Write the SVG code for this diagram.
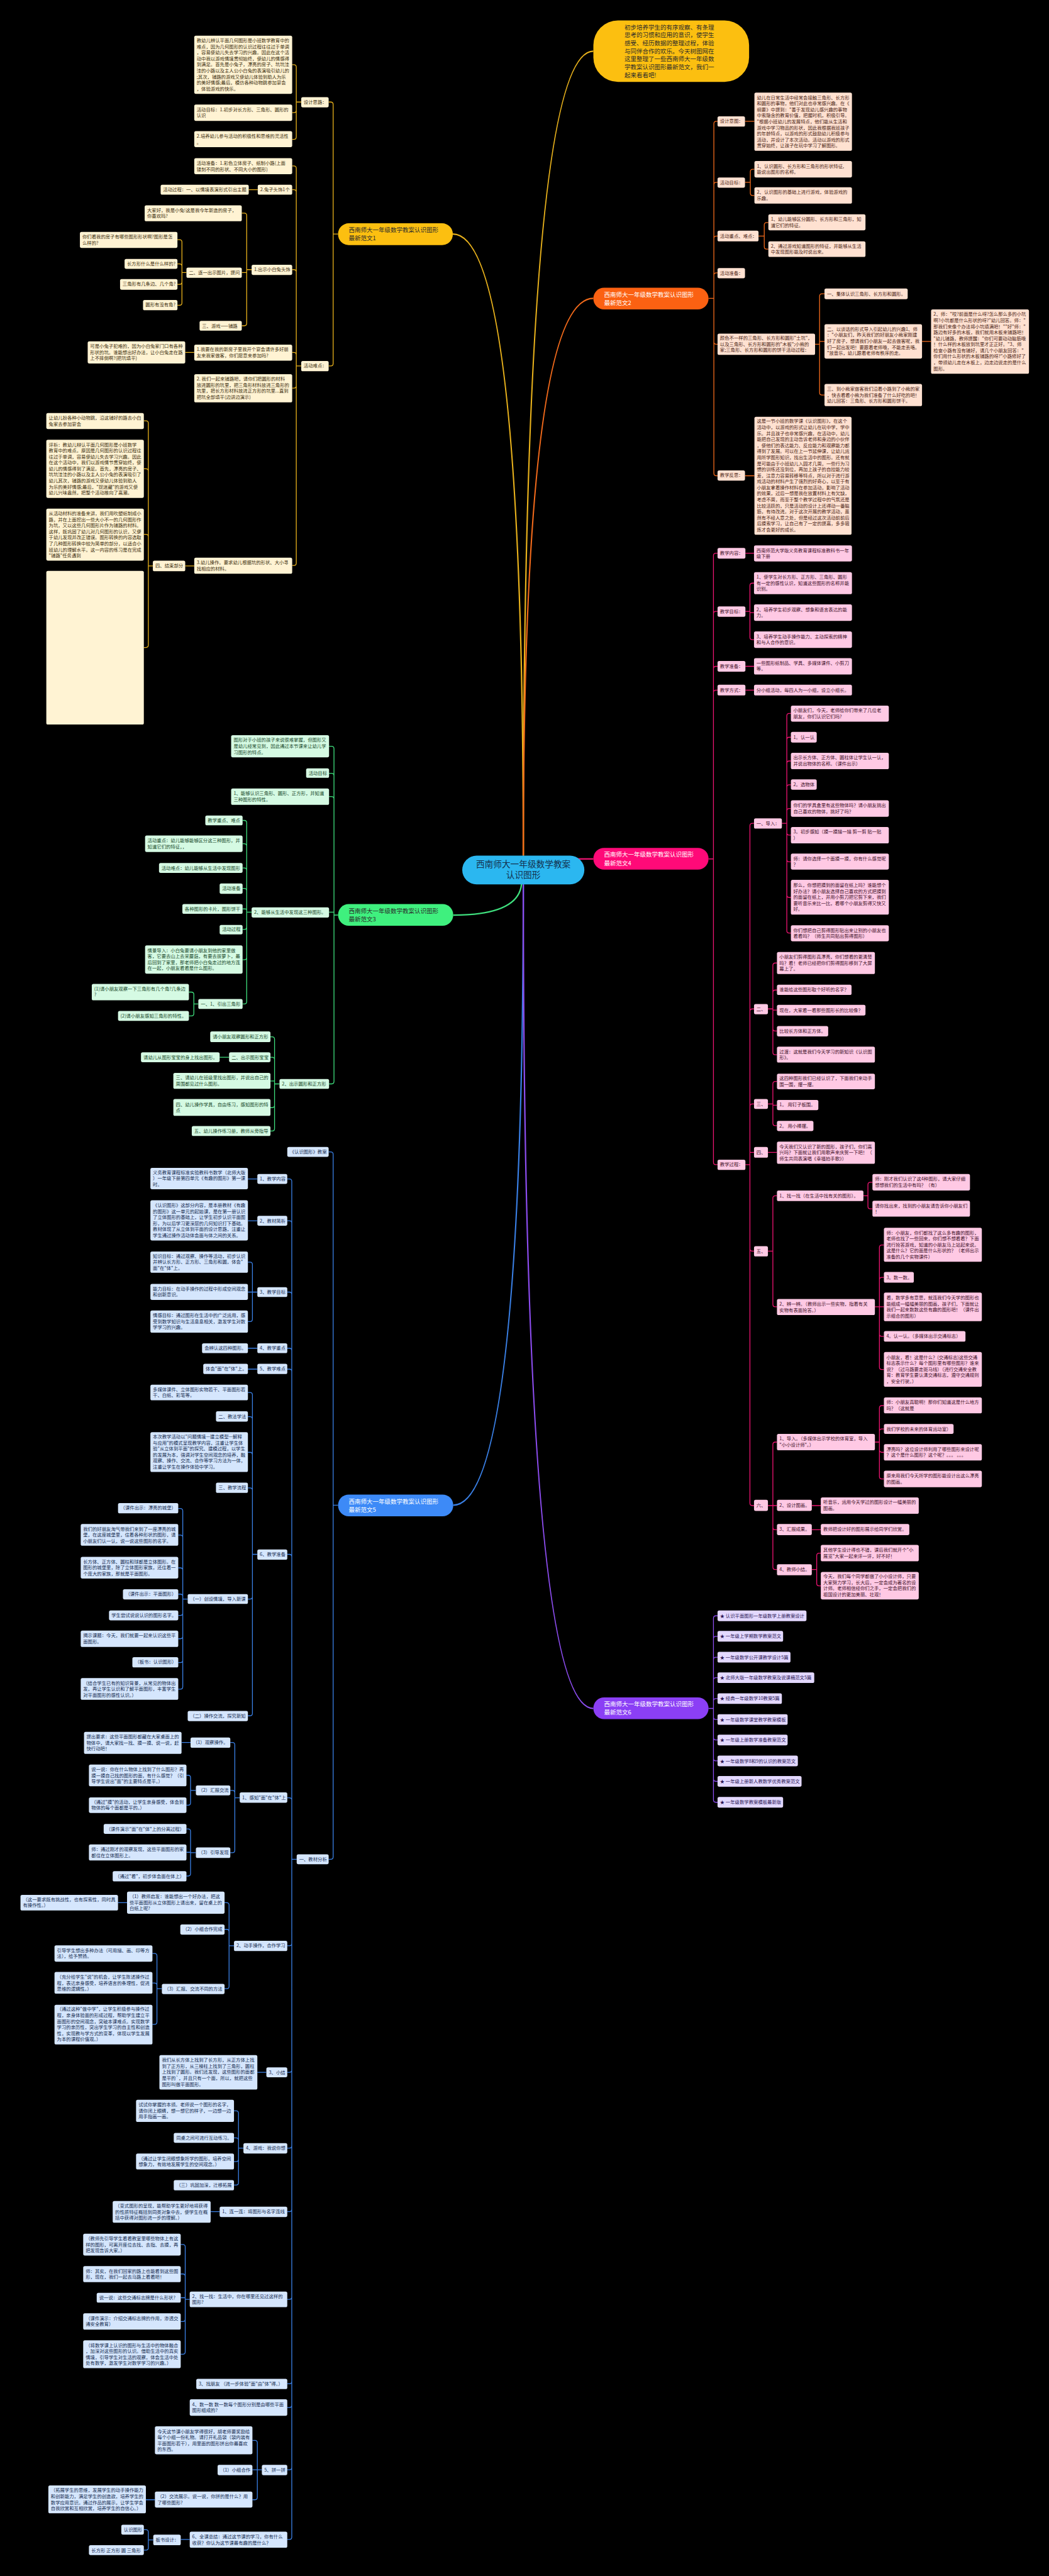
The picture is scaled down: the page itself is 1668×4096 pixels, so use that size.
<svg xmlns="http://www.w3.org/2000/svg" width="1668" height="4096" viewBox="0 0 1668 4096">
<style>
text{font-family:"Noto Sans CJK SC","Noto Sans",sans-serif;font-size:11.3px}
.bt{font-size:14.6px}
.ct{font-size:21px}
.r1,.r2,.r3,.r4,.r5,.r6{rx:4px;ry:4px}
.r1{fill:#fff3d3}.t1{fill:#3a2d0c}
.r2{fill:#ffe1d1}.t2{fill:#4a2413}
.r3{fill:#d5fae3}.t3{fill:#17482a}
.r4{fill:#ffc9e4}.t4{fill:#3d0f28}
.r5{fill:#d5e6fd}.t5{fill:#132a4e}
.r6{fill:#e3d8ff}.t6{fill:#2a1552}
.c1,.c2,.c3,.c4,.c5,.c6{fill:none;stroke-width:2}
.c1{stroke:#e9b21c}.c2{stroke:#f26a1b}.c3{stroke:#3fe07e}.c4{stroke:#ee1472}.c5{stroke:#3a80e6}.c6{stroke:#8d4df0}
.m{stroke-width:3.5}
.w{fill:#ffffff}.d{fill:#2a2a2a}
</style>
<rect width="1668" height="4096" fill="#000"/>
<g transform="scale(0.6516)">
<g id="connectors">
<path class="c1 m" d="M1277 2088Q1277 125 1448 125"/>
<path class="c1 m" d="M1277 2088Q1277 571 1105 571"/>
<path class="c2 m" d="M1277 2088Q1277 728 1448 728"/>
<path class="c3 m" d="M1273 2150Q1273 2233 1106 2233"/>
<path class="c4 m" d="M1400 2096H1448"/>
<path class="c5 m" d="M1277 2158Q1277 3673 1106 3673"/>
<path class="c6 m" d="M1277 2158Q1277 4169 1448 4169"/>
<path class="c1" d="M825 571H813M813 571V255Q813 249 807 249H802M813 571V887Q813 893 807 893H802
M735 249H723M723 249V164Q723 158 717 158H713M723 249V269Q723 275 717 275H713M723 249V334Q723 340 717 340H713
M735 893H723M723 893V411Q723 405 717 405H713M723 893V469Q723 463 717 463H713M723 893V664Q723 658 717 658H713M723 893V866Q723 860 717 860H713M723 893V941Q723 947 717 947H713M723 893V1374Q723 1380 717 1380H713
M629 463H607
M614 658H602M602 658V526Q602 520 596 520H590M602 658V665H590M602 658V789Q602 795 596 795H590
M455 665H444M444 665V591Q444 585 438 585H433M444 665V650Q444 644 438 644H433M444 665V688Q444 694 438 694H433M444 665V739Q444 745 438 745H433
M474 860H452M474 1381H452
M373 1381H362M362 1381V1033Q362 1027 356 1027H351M362 1381V1150Q362 1144 356 1144H351M362 1381V1310Q362 1304 356 1304H351M362 1381V1574Q362 1580 356 1580H351"/>
<path class="c2" d="M1729 728H1742M1742 728V302Q1742 296 1748 296H1751M1742 728V451Q1742 445 1748 445H1751M1742 728V582Q1742 576 1748 576H1751M1742 728V672Q1742 666 1748 666H1751M1742 728V834Q1742 840 1748 840H1751M1742 728V1155Q1742 1161 1748 1161H1751
M1818 296H1841
M1818 445H1831M1831 445V419Q1831 413 1837 413H1841M1831 445V471Q1831 477 1837 477H1841
M1851 576H1865M1865 576V549Q1865 543 1871 543H1875M1865 576V602Q1865 608 1871 608H1875
M1989 840H2000M2000 840V723Q2000 717 2006 717H2012M2000 840V833H2012M2000 840V958Q2000 964 2006 964H2012
M2250 833H2272M1818 1161H1841"/>
<path class="c4" d="M1729 2096H1741M1741 2096V1356Q1741 1350 1747 1350H1751M1741 2096V1498Q1741 1492 1747 1492H1751M1741 2096V1632Q1741 1626 1747 1626H1751M1741 2096V1690Q1741 1684 1747 1684H1751M1741 2096V2836Q1741 2842 1747 2842H1751
M1819 1350H1840
M1819 1492H1830M1830 1492V1429Q1830 1423 1836 1423H1840M1830 1492V1495H1840M1830 1492V1555Q1830 1561 1836 1561H1840
M1819 1626H1840M1819 1684H1840
M1819 2842H1830M1830 2842V2015Q1830 2009 1836 2009H1840M1830 2842V2468Q1830 2462 1836 2462H1840M1830 2842V2700Q1830 2694 1836 2694H1840M1830 2842V2812H1840M1830 2842V3047Q1830 3053 1836 3053H1840M1830 2842V3668Q1830 3674 1836 3674H1840
M1908 2009H1920M1920 2009V1747Q1920 1741 1926 1741H1930M1920 2009V1805Q1920 1799 1926 1799H1930M1920 2009V1863Q1920 1857 1926 1857H1930M1920 2009V1921Q1920 1915 1926 1915H1930M1920 2009V1979Q1920 1973 1926 1973H1930M1920 2009V2032Q1920 2038 1926 2038H1930M1920 2009V2097Q1920 2103 1926 2103H1930M1920 2009V2184Q1920 2190 1926 2190H1930M1920 2009V2271Q1920 2277 1926 2277H1930
M1874 2462H1886M1886 2462V2356Q1886 2350 1892 2350H1896M1886 2462V2422Q1886 2416 1892 2416H1896M1886 2462V2465H1896M1886 2462V2510Q1886 2516 1892 2516H1896M1886 2462V2568Q1886 2574 1892 2574H1896
M1874 2694H1886M1886 2694V2645Q1886 2639 1892 2639H1896M1886 2694V2697H1896M1886 2694V2741Q1886 2747 1892 2747H1896
M1874 2812H1896
M1874 3053H1886M1886 3053V2924Q1886 2918 1892 2918H1896M1886 3053V3183Q1886 3189 1892 3189H1896
M2107 2918H2118M2118 2918V2891Q2118 2885 2124 2885H2129M2118 2918V2944Q2118 2950 2124 2950H2129
M2135 3189H2146M2146 3189V3044Q2146 3038 2152 3038H2157M2146 3189V3123Q2146 3117 2152 3117H2157M2146 3189H2157M2146 3189V3255Q2146 3261 2152 3261H2157M2146 3189V3336Q2146 3342 2152 3342H2157
M1874 3674H1886M1886 3674V3525Q1886 3519 1892 3519H1896M1886 3674H1896M1886 3674V3727Q1886 3733 1892 3733H1896M1886 3674V3824Q1886 3830 1892 3830H1896
M2135 3519H2146M2146 3519V3436Q2146 3430 2152 3430H2157M2146 3519V3493Q2146 3487 2152 3487H2157M2146 3519V3538Q2146 3544 2152 3544H2157M2146 3519V3603Q2146 3609 2152 3609H2157
M1981 3674H2003M1981 3733H2003
M1981 3830H1993M1993 3830V3796Q1993 3790 1999 3790H2003M1993 3830V3864Q1993 3870 1999 3870H2003"/>
<path class="c6" d="M1729 4169H1741M1741 4169V3949Q1741 3943 1747 3943H1751M1741 4169V3999Q1741 3993 1747 3993H1751M1741 4169V4050Q1741 4044 1747 4044H1751M1741 4169V4100Q1741 4094 1747 4094H1751M1741 4169V4151Q1741 4145 1747 4145H1751M1741 4169V4190Q1741 4196 1747 4196H1751M1741 4169V4240Q1741 4246 1747 4246H1751M1741 4169V4291Q1741 4297 1747 4297H1751M1741 4169V4341Q1741 4347 1747 4347H1751M1741 4169V4392Q1741 4398 1747 4398H1751"/>
<path class="c3" d="M825 2233H815M815 2233V1827Q815 1821 809 1821H803M815 2233V1893Q815 1887 809 1887H803M815 2233V1950Q815 1944 809 1944H803M815 2233V2226H803M815 2233V2639Q815 2645 809 2645H803
M614 2226H602M602 2226V2008Q602 2002 596 2002H592M602 2226V2065Q602 2059 596 2059H592M602 2226V2124Q602 2118 596 2118H592M602 2226V2174Q602 2168 596 2168H592M602 2226V2220Q602 2218 598 2218H592M602 2226V2262Q602 2268 596 2268H592M602 2226V2336Q602 2342 596 2342H592M602 2226V2444Q602 2450 596 2450H592
M484 2450H473M473 2450V2427Q473 2421 467 2421H461M473 2450V2473Q473 2479 467 2479H461
M682 2645H670M670 2645V2536Q670 2530 664 2530H660M670 2645V2586Q670 2580 664 2580H660M670 2645V2638H660M670 2645V2697Q670 2703 664 2703H660M670 2645V2754Q670 2760 664 2760H660
M559 2580H536"/>
<path class="c5" d="M825 3673H813M813 3673V2817Q813 2811 807 2811H802M813 3673V4531Q813 4537 807 4537H802
M724 4537H712M712 4537V2883Q712 2877 706 2877H701M712 4537V2985Q712 2979 706 2979H701M712 4537V3159Q712 3153 706 3153H701M712 4537V3296Q712 3290 706 3290H701M712 4537V3347Q712 3341 706 3341H701M712 4537V3799Q712 3793 706 3793H701M712 4537V4393Q712 4387 706 4387H701M712 4537V4742Q712 4748 706 4748H701M712 4537V5051Q712 5057 706 5057H701M712 4537V5236Q712 5242 706 5242H701M712 4537V5391Q712 5397 706 5397H701M712 4537V5605Q712 5611 706 5611H701M712 4537V5811Q712 5817 706 5817H701M712 4537V5869Q712 5875 706 5875H701M712 4537V6021Q712 6027 706 6027H701M712 4537V6191Q712 6197 706 6197H701
M628 2877H605M628 2979H605
M628 3153H616M616 3153V3086Q616 3080 610 3080H605M616 3153H605M616 3153V3219Q616 3225 610 3225H605
M628 3290H605M628 3341H605
M628 3793H616M616 3793V3404Q616 3398 610 3398H605M616 3793V3463Q616 3457 610 3457H605M616 3793V3550Q616 3544 610 3544H605M616 3793V3637Q616 3631 610 3631H605M616 3793V3896Q616 3902 610 3902H605M616 3793V4181Q616 4187 610 4187H605
M458 3902H446M446 3902V3687Q446 3681 440 3681H435M446 3902V3752Q446 3746 440 3746H435M446 3902V3832Q446 3826 440 3826H435M446 3902V3896Q446 3890 440 3890H435M446 3902V3936Q446 3942 440 3942H435M446 3902V3993Q446 3999 440 3999H435M446 3902V4051Q446 4057 440 4057H435M446 3902V4116Q446 4122 440 4122H435
M585 4387H573M573 4387V4258Q573 4252 567 4252H562M573 4387V4375Q573 4369 567 4369H562M573 4387V4515Q573 4521 567 4521H562
M465 4252H443
M478 4369H465M465 4369V4338Q465 4332 459 4332H455M465 4369V4399Q465 4405 459 4405H455
M478 4521H465M465 4521V4469Q465 4463 459 4463H455M465 4521V4520H455M465 4521V4572Q465 4578 459 4578H455
M571 4748H559M559 4748V4649Q559 4643 553 4643H548M559 4748V4714Q559 4708 553 4708H548M559 4748V4847Q559 4853 553 4853H548
M310 4643H288
M395 4853H383M383 4853V4773Q383 4767 377 4767H372M383 4853V4845Q383 4839 377 4839H372M383 4853V4934Q383 4940 377 4940H372
M650 5057H628
M594 5242H582M582 5242V5157Q582 5151 576 5151H571M582 5242V5223Q582 5217 576 5217H571M582 5242V5269Q582 5275 576 5275H571M582 5242V5326Q582 5332 576 5332H571
M536 5397H514
M463 5611H452M452 5611V5483Q452 5477 446 5477H441M452 5611V5555Q452 5549 446 5549H441M452 5611V5607H441M452 5611V5659Q452 5665 446 5665H441M452 5611V5739Q452 5745 446 5745H441
M639 6027H628M628 6027V5961Q628 5955 622 5955H616M628 6027H616M628 6027V6094Q628 6100 622 6100H616
M378 6100H356M463 6197H441
M374 6198H362M362 6198V6179Q362 6173 356 6173H351M362 6198V6217Q362 6223 356 6223H351"/>
</g>

<g id="center"><rect x="1128" y="2088" width="298" height="70" rx="35" fill="#2bb7f0"/><text class="ct" fill="#14304d" text-anchor="middle" x="1277" y="2117">西南师大一年级数学教案<tspan x="1277" dy="26">认识图形</tspan></text></g>
<g id="intro"><rect x="1448" y="50" width="380" height="150" rx="60" fill="#fcbf10"/><text class="bt d" x="1524" y="71.5">初步培养学生的有序观察、有条理<tspan x="1524" dy="19.5">思考的习惯和应用的意识，使学生</tspan><tspan x="1524" dy="19.5">感受、经历数据的整理过程，体验</tspan><tspan x="1524" dy="19.5">与同伴合作的欢乐。今天树图网在</tspan><tspan x="1524" dy="19.5">这里整理了一些西南师大一年级数</tspan><tspan x="1524" dy="19.5">学教案认识图形最新范文，我们一</tspan><tspan x="1524" dy="19.5">起来看看吧!</tspan></text></g>

<g id="b1"><rect x="825" y="545" width="280" height="53" rx="26" fill="#fcbf10"/><text class="bt d" x="851" y="567">西南师大一年级数学教案认识图形<tspan x="851" dy="20">最新范文1</tspan></text></g>
<g id="b2"><rect x="1448" y="702" width="281" height="53" rx="26" fill="#fb6112"/><text class="bt w" x="1474" y="724">西南师大一年级数学教案认识图形<tspan x="1474" dy="20">最新范文2</tspan></text></g>
<g id="b3"><rect x="825" y="2206" width="281" height="53" rx="26" fill="#3ff07e"/><text class="bt d" x="851" y="2229">西南师大一年级数学教案认识图形<tspan x="851" dy="20">最新范文3</tspan></text></g>
<g id="b4"><rect x="1448" y="2069" width="281" height="53" rx="26" fill="#ff0a78"/><text class="bt w" x="1474" y="2091">西南师大一年级数学教案认识图形<tspan x="1474" dy="20">最新范文4</tspan></text></g>
<g id="b5"><rect x="825" y="3647" width="281" height="53" rx="26" fill="#3d8af7"/><text class="bt w" x="851" y="3669">西南师大一年级数学教案认识图形<tspan x="851" dy="20">最新范文5</tspan></text></g>
<g id="b6"><rect x="1448" y="4142" width="281" height="53" rx="26" fill="#8b3ff5"/><text class="bt w" x="1474" y="4164">西南师大一年级数学教案认识图形<tspan x="1474" dy="20">最新范文6</tspan></text></g>

<g id="n1-1"><rect class="r1" x="735" y="237" width="67" height="25"/><text class="t1" x="741" y="253">设计思路：</text></g>
<g id="n1-2"><rect class="r1" x="474" y="87" width="239" height="142"/><text class="t1" x="480" y="103">教幼儿辨认平面几何图形是小班数学教育中的<tspan x="480" dy="14.7">难点，因为几何图形的认识过程往往过于单调</tspan><tspan x="480" dy="14.7">，容易使幼儿失去学习的兴趣。因此在这个活</tspan><tspan x="480" dy="14.7">动中我以游戏情境贯彻始终，使幼儿的情感得</tspan><tspan x="480" dy="14.7">到满足。首先是小兔子，漂亮的房子、坑坑洼</tspan><tspan x="480" dy="14.7">洼的小路以及主人公小白兔的表演吸引幼儿的</tspan><tspan x="480" dy="14.7">;其次，铺路的游戏又使幼儿体验到助人为乐</tspan><tspan x="480" dy="14.7">的美好情感;最后，模仿各种动物跳参加宴会</tspan><tspan x="480" dy="14.7">，体验游戏的快乐。</tspan></text></g>
<g id="n1-3"><rect class="r1" x="474" y="255" width="239" height="40"/><text class="t1" x="480" y="271">活动目标：1.初步对长方形、三角形、圆形的<tspan x="480" dy="14.7">认识</tspan></text></g>
<g id="n1-4"><rect class="r1" x="474" y="320" width="239" height="39"/><text class="t1" x="480" y="336">2.培养幼儿参与活动的积极性和思维的灵活性<tspan x="480" dy="14.7">。</tspan></text></g>
<g id="n1-5"><rect class="r1" x="735" y="881" width="67" height="25"/><text class="t1" x="741" y="897">活动难点：</text></g>
<g id="n1-6"><rect class="r1" x="474" y="386" width="239" height="39"/><text class="t1" x="480" y="402">活动准备：1.彩色立体房子、纸制小路(上面<tspan x="480" dy="14.7">镂刻不同的形状、不同大小的图形)</tspan></text></g>
<g id="n1-7"><rect class="r1" x="629" y="451" width="84" height="24"/><text class="t1" x="635" y="467">2.兔子头饰1个</text></g>
<g id="n1-8"><rect class="r1" x="392" y="451" width="215" height="24"/><text class="t1" x="398" y="467">活动过程：一、以情境表演形式引出主题</text></g>
<g id="n1-9"><rect class="r1" x="614" y="646" width="99" height="25"/><text class="t1" x="620" y="662">1.出示小白兔头饰</text></g>
<g id="n1-10"><rect class="r1" x="353" y="501" width="237" height="39"/><text class="t1" x="359" y="517">大家好，我是小兔!这是我今年新造的房子，<tspan x="359" dy="14.7">你喜欢吗?</tspan></text></g>
<g id="n1-11"><rect class="r1" x="455" y="653" width="135" height="25"/><text class="t1" x="461" y="669">二、逐一出示图片，提问</text></g>
<g id="n1-12"><rect class="r1" x="195" y="566" width="238" height="39"/><text class="t1" x="201" y="582">你们看我的房子有哪些图形形状啊?图形是怎<tspan x="201" dy="14.7">么样的?</tspan></text></g>
<g id="n1-13"><rect class="r1" x="304" y="632" width="129" height="24"/><text class="t1" x="310" y="648">长方形什么是什么样的?</text></g>
<g id="n1-14"><rect class="r1" x="293" y="681" width="140" height="26"/><text class="t1" x="299" y="697">三角形有几条边、几个角?</text></g>
<g id="n1-15"><rect class="r1" x="349" y="732" width="84" height="25"/><text class="t1" x="355" y="748">圆形有没有角?</text></g>
<g id="n1-16"><rect class="r1" x="487" y="783" width="103" height="24"/><text class="t1" x="493" y="799">三、游戏——铺路</text></g>
<g id="n1-17"><rect class="r1" x="474" y="841" width="239" height="39"/><text class="t1" x="480" y="857">1.我要在我的新房子里我开个宴会请许多好朋<tspan x="480" dy="14.7">友来我家做客，你们愿意来参加吗?</tspan></text></g>
<g id="n1-18"><rect class="r1" x="214" y="833" width="238" height="54"/><text class="t1" x="220" y="849">可是小兔子犯难的，因为小白兔家门口有各种<tspan x="220" dy="14.7">形状的坑。谁能想出好办法，让小白兔走在路</tspan><tspan x="220" dy="14.7">上不摔倒啊?(把坑填平)</tspan></text></g>
<g id="n1-19"><rect class="r1" x="474" y="913" width="239" height="69"/><text class="t1" x="480" y="929">2. 我们一起来铺路吧，请你们把圆形的材料<tspan x="480" dy="14.7">放进圆形的坑里，把三角形材料放进三角形的</tspan><tspan x="480" dy="14.7">坑里，把长方形材料放进正方形的坑里...直到</tspan><tspan x="480" dy="14.7">把坑全部填平(边讲边演示)</tspan></text></g>
<g id="n1-20"><rect class="r1" x="474" y="1361" width="239" height="39"/><text class="t1" x="480" y="1377">3.幼儿操作。要求幼儿根据坑的形状、大小寻<tspan x="480" dy="14.7">找相应的材料。</tspan></text></g>
<g id="n1-21"><rect class="r1" x="373" y="1368" width="79" height="26"/><text class="t1" x="379" y="1385">四、结束部分</text></g>
<g id="n1-22"><rect class="r1" x="113" y="1008" width="238" height="39"/><text class="t1" x="119" y="1024">让幼儿扮各种小动物跳，沿这铺好的路去小白<tspan x="119" dy="14.7">兔家去参加宴会</tspan></text></g>
<g id="n1-23"><rect class="r1" x="113" y="1073" width="238" height="142"/><text class="t1" x="119" y="1089">评析：教幼儿辩认平面几何图形是小班数学<tspan x="119" dy="14.7">教育中的难点。原因是几何图形的认识过程往</tspan><tspan x="119" dy="14.7">往过于单调，容易使幼儿失去学习兴趣。因此</tspan><tspan x="119" dy="14.7">在这个活动中，我们以游戏情节贯穿始终，使</tspan><tspan x="119" dy="14.7">幼儿的情感得到了满足。首先，漂亮的房子、</tspan><tspan x="119" dy="14.7">坑坑洼洼的小路以及主人公小兔的表演吸引了</tspan><tspan x="119" dy="14.7">幼儿其次，铺路的游戏又使幼儿体验到助人</tspan><tspan x="119" dy="14.7">为乐的美好情感;最后，"捉迷藏"的游戏又使</tspan><tspan x="119" dy="14.7">幼儿兴味盎然，把整个活动推向了高潮。</tspan></text></g>
<g id="n1-24"><rect class="r1" x="113" y="1241" width="238" height="127"/><text class="t1" x="119" y="1257">从活动材料的准备来讲，我们用吹塑纸制成小<tspan x="119" dy="14.7">路，并在上面挖出一些大小不一的几何图形作</tspan><tspan x="119" dy="14.7">为坑，又以这些几何图形片作为铺路的材料。</tspan><tspan x="119" dy="14.7">这样，既巩固了幼儿对几何图形的认识，又便</tspan><tspan x="119" dy="14.7">于幼儿发现并改正错误。图形转换的内容选取</tspan><tspan x="119" dy="14.7">了几种图形转换中较为简单的部分，以适合小</tspan><tspan x="119" dy="14.7">班幼儿的理解水平。这一内容的练习是在完成</tspan><tspan x="119" dy="14.7">"铺路"任务遇到</tspan></text></g>
<g id="n1-25"><rect class="r1" x="113" y="1393" width="238" height="375"/></g>

<g id="n2-1"><rect class="r2" x="1751" y="284" width="67" height="25"/><text class="t2" x="1757" y="300">设计意图：</text></g>
<g id="n2-2"><rect class="r2" x="1841" y="226" width="238" height="142"/><text class="t2" x="1847" y="242">幼儿在日常生活中经常会接触三角形、长方形<tspan x="1847" dy="14.7">和圆形的事物，他们对此也非常感兴趣。在《</tspan><tspan x="1847" dy="14.7">纲要》中提到："善于发现幼儿感兴趣的事物</tspan><tspan x="1847" dy="14.7">中索隐含的教育价值，把握时机，积极引导。</tspan><tspan x="1847" dy="14.7">"根据小班幼儿的发展特点，他们能从生活和</tspan><tspan x="1847" dy="14.7">游戏中学习物品的形状，因此我根据我班孩子</tspan><tspan x="1847" dy="14.7">的年龄特点，以游戏的形式鼓励幼儿积极参与</tspan><tspan x="1847" dy="14.7">活动，并设计了本次活动。活动以游戏的形式</tspan><tspan x="1847" dy="14.7">贯穿始终，让孩子在玩中学习了解图形。</tspan></text></g>
<g id="n2-3"><rect class="r2" x="1751" y="433" width="67" height="25"/><text class="t2" x="1757" y="449">活动目标：</text></g>
<g id="n2-4"><rect class="r2" x="1841" y="393" width="238" height="40"/><text class="t2" x="1847" y="409">1、认识圆形、长方形和三角形的形状特征,<tspan x="1847" dy="14.7">能说出图形的名称。</tspan></text></g>
<g id="n2-5"><rect class="r2" x="1841" y="457" width="238" height="40"/><text class="t2" x="1847" y="473">2、认识图形的基础上进行游戏，体验游戏的<tspan x="1847" dy="14.7">乐趣。</tspan></text></g>
<g id="n2-6"><rect class="r2" x="1751" y="563" width="100" height="26"/><text class="t2" x="1757" y="580">活动重点、难点：</text></g>
<g id="n2-7"><rect class="r2" x="1875" y="523" width="237" height="39"/><text class="t2" x="1881" y="539">1、幼儿能够区分圆形、长方形和三角形，知<tspan x="1881" dy="14.7">道它们的特征。</tspan></text></g>
<g id="n2-8"><rect class="r2" x="1875" y="589" width="237" height="38"/><text class="t2" x="1881" y="604">2、通过游戏知道图形的特征，并能够从生活<tspan x="1881" dy="14.7">中发现图形能及时说出来。</tspan></text></g>
<g id="n2-9"><rect class="r2" x="1751" y="654" width="67" height="25"/><text class="t2" x="1757" y="670">活动准备：</text></g>
<g id="n2-10"><rect class="r2" x="1751" y="814" width="238" height="52"/><text class="t2" x="1757" y="829">颜色不一样的三角形、长方形和圆形"土坑"，<tspan x="1757" dy="14.7">以及三角形、长方形和圆形的"木板";小熊的</tspan><tspan x="1757" dy="14.7">家;三角形、长方形和圆形的饼干活动过程：</tspan></text></g>
<g id="n2-11"><rect class="r2" x="2012" y="704" width="203" height="26"/><text class="t2" x="2018" y="721">一、集体认识三角形、长方形和圆形。</text></g>
<g id="n2-12"><rect class="r2" x="2012" y="791" width="238" height="84"/><text class="t2" x="2018" y="807">二、以谈话的形式导入引起幼儿的兴趣1、师<tspan x="2018" dy="14.7">："小朋友们，昨天我们的好朋友小熊家刚建</tspan><tspan x="2018" dy="14.7">好了房子，想请我们小朋友一起去做客呢，我</tspan><tspan x="2018" dy="14.7">们一起出发吧！要跟着老师哦，不能走丢咯。</tspan><tspan x="2018" dy="14.7">"放音乐，幼儿跟着老师有秩序的走。</tspan></text></g>
<g id="n2-13"><rect class="r2" x="2272" y="755" width="239" height="157"/><text class="t2" x="2278" y="771">2、师："哎?前面是什么呀?怎么那么多的小坑<tspan x="2278" dy="14.7">啊?小坑都是什么形状的呀?"幼儿回答。师："</tspan><tspan x="2278" dy="14.7">那我们来像个办法将小坑填满吧！""好"师："</tspan><tspan x="2278" dy="14.7">路边有好多的木板，我们就用木板来铺路吧！</tspan><tspan x="2278" dy="14.7">"幼儿铺路，教师提醒："你们可要动动脑筋哦</tspan><tspan x="2278" dy="14.7">！什么样的木板放到坑里才正正好。"3、师</tspan><tspan x="2278" dy="14.7">检查小路有没有铺好，请几个小朋友回答："</tspan><tspan x="2278" dy="14.7">你们用什么形状的木板铺路的呀?"小路修好了</tspan><tspan x="2278" dy="14.7">，带领幼儿走在木板上，边走边说走的是什么</tspan><tspan x="2278" dy="14.7">图形。</tspan></text></g>
<g id="n2-14"><rect class="r2" x="2012" y="937" width="238" height="54"/><text class="t2" x="2018" y="953">三、到小熊家做客我们沿着小路到了小熊的家<tspan x="2018" dy="14.7">，快去看看小熊为我们准备了什么好吃的吧！</tspan><tspan x="2018" dy="14.7">幼儿回答：三角形、长方形和圆形饼干。</tspan></text></g>
<g id="n2-15"><rect class="r2" x="1751" y="1148" width="67" height="25"/><text class="t2" x="1757" y="1164">教学反思：</text></g>
<g id="n2-16"><rect class="r2" x="1841" y="1017" width="237" height="288"/><text class="t2" x="1847" y="1032">这是一节小班的数学课《认识图形》，在这个<tspan x="1847" dy="14.7">活动中，以游戏的形式让幼儿在玩中学，学中</tspan><tspan x="1847" dy="14.7">乐。并且孩子也非常感兴趣，在活动中，幼儿</tspan><tspan x="1847" dy="14.7">能把自己发现的主动告诉老师和身边的小伙伴</tspan><tspan x="1847" dy="14.7">，使他们的表达能力、反应能力和观察能力都</tspan><tspan x="1847" dy="14.7">得到了发展。可以在上一节延伸课，让幼儿运</tspan><tspan x="1847" dy="14.7">用所学图形知识，找出生活中的图形。还有就</tspan><tspan x="1847" dy="14.7">是可能由于小班幼儿入园才几周，一些行为习</tspan><tspan x="1847" dy="14.7">惯的训练还没到位，再加上孩子的自控能力较</tspan><tspan x="1847" dy="14.7">差，注意力容易转移等特点，所以对于进行游</tspan><tspan x="1847" dy="14.7">戏活动的材料产生了强烈的好奇心，以至于有</tspan><tspan x="1847" dy="14.7">小朋友拿着操作材料在参加活动，影响了活动</tspan><tspan x="1847" dy="14.7">的效果，过后一想是我在放置材料上有欠缺，</tspan><tspan x="1847" dy="14.7">考虑不周，而至于整个教学过程中的气氛还是</tspan><tspan x="1847" dy="14.7">比较活跃的，只是活动的设计上还得动一番脑</tspan><tspan x="1847" dy="14.7">筋，有待改进。对于这次开展的教学活动，虽</tspan><tspan x="1847" dy="14.7">然有不经人意之处，但是经过这次活动前前后</tspan><tspan x="1847" dy="14.7">后摸索学习，让自己有了一定的提高，多多锻</tspan><tspan x="1847" dy="14.7">炼才会更好的成长。</tspan></text></g>

<g id="n3-1"><rect class="r3" x="564" y="1794" width="239" height="54"/><text class="t3" x="570" y="1810">图形对于小班的孩子来说很难掌握，但图形又<tspan x="570" dy="14.7">是幼儿经常见到，因此通过本节课来让幼儿学</tspan><tspan x="570" dy="14.7">习图形的特点。</tspan></text></g>
<g id="n3-2"><rect class="r3" x="747" y="1875" width="56" height="23"/><text class="t3" x="753" y="1890">活动目标</text></g>
<g id="n3-3"><rect class="r3" x="564" y="1924" width="239" height="40"/><text class="t3" x="570" y="1940">1、能够认识三角形、圆形、正方形，并知道<tspan x="570" dy="14.7">三种图形的特性。</tspan></text></g>
<g id="n3-4"><rect class="r3" x="614" y="2214" width="189" height="25"/><text class="t3" x="620" y="2230">2、能够从生活中发现这三种图形。</text></g>
<g id="n3-5"><rect class="r3" x="501" y="1990" width="91" height="24"/><text class="t3" x="507" y="2006">教学重点、难点</text></g>
<g id="n3-6"><rect class="r3" x="354" y="2039" width="238" height="40"/><text class="t3" x="360" y="2055">活动重点：幼儿能够能够区分这三种图形，并<tspan x="360" dy="14.7">知道它们的特征，，</tspan></text></g>
<g id="n3-7"><rect class="r3" x="388" y="2106" width="204" height="24"/><text class="t3" x="394" y="2122">活动难点：幼儿能够从生活中发现图形</text></g>
<g id="n3-8"><rect class="r3" x="536" y="2156" width="56" height="25"/><text class="t3" x="542" y="2172">活动准备</text></g>
<g id="n3-9"><rect class="r3" x="445" y="2206" width="147" height="24"/><text class="t3" x="451" y="2222">各种图形的卡片，图形饼干</text></g>
<g id="n3-10"><rect class="r3" x="536" y="2257" width="56" height="23"/><text class="t3" x="542" y="2272">活动过程</text></g>
<g id="n3-11"><rect class="r3" x="354" y="2307" width="238" height="69"/><text class="t3" x="360" y="2323">情景导入：小白兔要请小朋友到他的家里做<tspan x="360" dy="14.7">客，它要去山上去采蘑菇，有要去拔萝卜，最</tspan><tspan x="360" dy="14.7">后回到了家里，那老师把小白兔走过的地方连</tspan><tspan x="360" dy="14.7">在一起，小朋友看看是什么图形。</tspan></text></g>
<g id="n3-12"><rect class="r3" x="484" y="2438" width="108" height="24"/><text class="t3" x="490" y="2454">一、1、引出三角形</text></g>
<g id="n3-13"><rect class="r3" x="224" y="2401" width="237" height="40"/><text class="t3" x="230" y="2417">(1)请小朋友观察一下三角形有几个角?几条边<tspan x="230" dy="14.7">?</tspan></text></g>
<g id="n3-14"><rect class="r3" x="288" y="2467" width="173" height="24"/><text class="t3" x="294" y="2483">(2)请小朋友感知三角形的特性。</text></g>
<g id="n3-15"><rect class="r3" x="682" y="2633" width="121" height="24"/><text class="t3" x="688" y="2649">2、出示圆形和正方形</text></g>
<g id="n3-16"><rect class="r3" x="513" y="2517" width="147" height="26"/><text class="t3" x="519" y="2534">请小朋友观察圆形和正方形</text></g>
<g id="n3-17"><rect class="r3" x="559" y="2568" width="101" height="24"/><text class="t3" x="565" y="2584">二、出示图形宝宝</text></g>
<g id="n3-18"><rect class="r3" x="344" y="2568" width="192" height="24"/><text class="t3" x="350" y="2584">请幼儿从图形宝宝的身上找出图形。</text></g>
<g id="n3-19"><rect class="r3" x="423" y="2618" width="237" height="39"/><text class="t3" x="429" y="2634">三、请幼儿在班级里找出图形，并说出自己的<tspan x="429" dy="14.7">周围都见过什么图形。</tspan></text></g>
<g id="n3-20"><rect class="r3" x="423" y="2682" width="237" height="41"/><text class="t3" x="429" y="2699">四、幼儿操作学具，自由练习，感知图形的特<tspan x="429" dy="14.7">点</tspan></text></g>
<g id="n3-21"><rect class="r3" x="468" y="2748" width="192" height="24"/><text class="t3" x="474" y="2764">五、幼儿操作练习册，教师从旁指导</text></g>

<g id="n4-1"><rect class="r4" x="1751" y="1337" width="68" height="26"/><text class="t4" x="1757" y="1354">教学内容：</text></g>
<g id="n4-2"><rect class="r4" x="1840" y="1331" width="239" height="39"/><text class="t4" x="1846" y="1347">西南师范大学版义务教育课程标准教科书一年<tspan x="1846" dy="14.7">级下册</tspan></text></g>
<g id="n4-3"><rect class="r4" x="1751" y="1480" width="68" height="25"/><text class="t4" x="1757" y="1496">教学目标：</text></g>
<g id="n4-4"><rect class="r4" x="1840" y="1396" width="239" height="54"/><text class="t4" x="1846" y="1412">1、使学生对长方形、正方形、三角形、圆形<tspan x="1846" dy="14.7">有一定的感性认识，知道这些图形的名称并能</tspan><tspan x="1846" dy="14.7">识别。</tspan></text></g>
<g id="n4-5"><rect class="r4" x="1840" y="1475" width="239" height="40"/><text class="t4" x="1846" y="1491">2、培养学生初步观察、想象和语言表达的能<tspan x="1846" dy="14.7">力。</tspan></text></g>
<g id="n4-6"><rect class="r4" x="1840" y="1541" width="239" height="40"/><text class="t4" x="1846" y="1557">3、培养学生动手操作能力、主动探索的精神<tspan x="1846" dy="14.7">和与人合作的意识。</tspan></text></g>
<g id="n4-7"><rect class="r4" x="1751" y="1613" width="68" height="26"/><text class="t4" x="1757" y="1630">教学准备：</text></g>
<g id="n4-8"><rect class="r4" x="1840" y="1606" width="239" height="40"/><text class="t4" x="1846" y="1622">一些图形纸制品、学具、多媒体课件、小剪刀<tspan x="1846" dy="14.7">等。</tspan></text></g>
<g id="n4-9"><rect class="r4" x="1751" y="1671" width="68" height="26"/><text class="t4" x="1757" y="1688">教学方式：</text></g>
<g id="n4-10"><rect class="r4" x="1840" y="1671" width="239" height="26"/><text class="t4" x="1846" y="1688">分小组活动，每四人为一小组，设立小组长。</text></g>
<g id="n4-11"><rect class="r4" x="1751" y="2830" width="68" height="25"/><text class="t4" x="1757" y="2846">教学过程：</text></g>
<g id="n4-12"><rect class="r4" x="1840" y="1997" width="68" height="25"/><text class="t4" x="1846" y="2013">一、导入：</text></g>
<g id="n4-13"><rect class="r4" x="1930" y="1722" width="239" height="39"/><text class="t4" x="1936" y="1738"> 小朋友们，今天，老师给你们带来了几位老<tspan x="1936" dy="14.7">朋友，你们认识它们吗?</tspan></text></g>
<g id="n4-14"><rect class="r4" x="1930" y="1786" width="63" height="26"/><text class="t4" x="1936" y="1803">1。认一认</text></g>
<g id="n4-15"><rect class="r4" x="1930" y="1837" width="239" height="40"/><text class="t4" x="1936" y="1853">出示长方体、正方体、圆柱体让学生认一认，<tspan x="1936" dy="14.7">并说出物体的名称。（课件出示）</tspan></text></g>
<g id="n4-16"><rect class="r4" x="1930" y="1902" width="63" height="25"/><text class="t4" x="1936" y="1918">2。选物体</text></g>
<g id="n4-17"><rect class="r4" x="1930" y="1953" width="239" height="40"/><text class="t4" x="1936" y="1969">你们的学具盒里有这些物体吗？请小朋友挑出<tspan x="1936" dy="14.7">自己喜欢的物体，挑好了吗？</tspan></text></g>
<g id="n4-18"><rect class="r4" x="1930" y="2018" width="239" height="40"/><text class="t4" x="1936" y="2034">3。初步感知（摸一摸描一描 剪一剪 贴一贴<tspan x="1936" dy="14.7">）</tspan></text></g>
<g id="n4-19"><rect class="r4" x="1930" y="2083" width="239" height="39"/><text class="t4" x="1936" y="2099">师：请你选择一个面摸一摸，你有什么感觉呢<tspan x="1936" dy="14.7">？</tspan></text></g>
<g id="n4-20"><rect class="r4" x="1930" y="2147" width="239" height="85"/><text class="t4" x="1936" y="2164">那么，你想把摸到的面留在纸上吗？谁能想个<tspan x="1936" dy="14.7">好办法？请小朋友选择自己喜欢的方式把摸到</tspan><tspan x="1936" dy="14.7">的面留在纸上，并用小剪刀把它剪下来，我们</tspan><tspan x="1936" dy="14.7">要听音乐来比一比，看哪个小朋友剪得又快又</tspan><tspan x="1936" dy="14.7">好。</tspan></text></g>
<g id="n4-21"><rect class="r4" x="1930" y="2258" width="239" height="39"/><text class="t4" x="1936" y="2274">你们想把自己剪得图形贴出来让别的小朋友也<tspan x="1936" dy="14.7">看看吗？（师生共同贴出剪得图形）</tspan></text></g>
<g id="n4-22"><rect class="r4" x="1840" y="2450" width="34" height="25"/><text class="t4" x="1846" y="2466">二、</text></g>
<g id="n4-23"><rect class="r4" x="1896" y="2323" width="239" height="54"/><text class="t4" x="1902" y="2339">小朋友们剪得图形真漂亮，你们想看的更清楚<tspan x="1902" dy="14.7">吗？看！老师已经把你们剪得图形移到了大屏</tspan><tspan x="1902" dy="14.7">幕上了。</tspan></text></g>
<g id="n4-24"><rect class="r4" x="1896" y="2403" width="182" height="25"/><text class="t4" x="1902" y="2419">谁能给这些图形取个好听的名字？</text></g>
<g id="n4-25"><rect class="r4" x="1896" y="2452" width="216" height="26"/><text class="t4" x="1902" y="2469">现在，大家看一看那些图形长的比较像？</text></g>
<g id="n4-26"><rect class="r4" x="1896" y="2504" width="125" height="25"/><text class="t4" x="1902" y="2520">比较长方体和正方体。</text></g>
<g id="n4-27"><rect class="r4" x="1896" y="2554" width="239" height="39"/><text class="t4" x="1902" y="2570">过渡：这就是我们今天学习的新知识《认识图<tspan x="1902" dy="14.7">形》。</tspan></text></g>
<g id="n4-28"><rect class="r4" x="1840" y="2682" width="34" height="24"/><text class="t4" x="1846" y="2698">三、</text></g>
<g id="n4-29"><rect class="r4" x="1896" y="2620" width="239" height="38"/><text class="t4" x="1902" y="2635">这四种图形我们已经认识了，下面我们来动手<tspan x="1902" dy="14.7">围一围，摆一摆。</tspan></text></g>
<g id="n4-30"><rect class="r4" x="1896" y="2684" width="101" height="25"/><text class="t4" x="1902" y="2700">1。 用钉子板围。</text></g>
<g id="n4-31"><rect class="r4" x="1896" y="2735" width="89" height="25"/><text class="t4" x="1902" y="2751">2。 用小棒摆。</text></g>
<g id="n4-32"><rect class="r4" x="1840" y="2799" width="34" height="26"/><text class="t4" x="1846" y="2816">四、</text></g>
<g id="n4-33"><rect class="r4" x="1896" y="2786" width="239" height="54"/><text class="t4" x="1902" y="2802">今天我们又认识了新的图形，孩子们，你们高<tspan x="1902" dy="14.7">兴吗？下面就让我们用歌声来庆贺一下吧！（</tspan><tspan x="1902" dy="14.7">师生共同表演唱《幸福拍手歌》）</tspan></text></g>
<g id="n4-34"><rect class="r4" x="1840" y="3041" width="34" height="25"/><text class="t4" x="1846" y="3057">五、</text></g>
<g id="n4-35"><rect class="r4" x="1896" y="2905" width="211" height="26"/><text class="t4" x="1902" y="2922">1、找一找（在生活中找有关的图形）。</text></g>
<g id="n4-36"><rect class="r4" x="2129" y="2865" width="238" height="40"/><text class="t4" x="2135" y="2881">师：刚才我们认识了这4种图形，请大家仔细<tspan x="2135" dy="14.7">想想我们的生活中有吗？（有）</tspan></text></g>
<g id="n4-37"><rect class="r4" x="2129" y="2930" width="238" height="39"/><text class="t4" x="2135" y="2946">请你找出来，找到的小朋友请告诉你小朋友们<tspan x="2135" dy="14.7">！</tspan></text></g>
<g id="n4-38"><rect class="r4" x="1896" y="3170" width="239" height="39"/><text class="t4" x="1902" y="3186">2、辨一辨。（教师出示一些实物，指着有关<tspan x="1902" dy="14.7">实物有表面抢答。）</tspan></text></g>
<g id="n4-39"><rect class="r4" x="2157" y="2996" width="239" height="83"/><text class="t4" x="2163" y="3012">师：小朋友，你们都找了这么多有趣的图形，<tspan x="2163" dy="14.7">老师也找了一些回来，你们想不想看看？下面</tspan><tspan x="2163" dy="14.7">进行抢答游戏，知道的小朋友马上站起来说。</tspan><tspan x="2163" dy="14.7">这是什么？它的面是什么形状的？（老师出示</tspan><tspan x="2163" dy="14.7">准备的几个实物课件）</tspan></text></g>
<g id="n4-40"><rect class="r4" x="2157" y="3104" width="73" height="26"/><text class="t4" x="2163" y="3121">3。数一数。</text></g>
<g id="n4-41"><rect class="r4" x="2157" y="3154" width="239" height="70"/><text class="t4" x="2163" y="3171">看，数学多有意思，就连我们今天学的图形也<tspan x="2163" dy="14.7">能组成一幅幅美丽的图画，孩子们，下面就让</tspan><tspan x="2163" dy="14.7">我们一起来数数这些有趣的图形吧！（课件出</tspan><tspan x="2163" dy="14.7">示组合的图形）</tspan></text></g>
<g id="n4-42"><rect class="r4" x="2157" y="3248" width="199" height="26"/><text class="t4" x="2163" y="3265">4。认一认。（多媒体出示交通标志）</text></g>
<g id="n4-43"><rect class="r4" x="2157" y="3299" width="239" height="85"/><text class="t4" x="2163" y="3316">小朋友，看！这是什么？(交通标志)这些交通<tspan x="2163" dy="14.7">标志表示什么？每个图形里有哪些图形？谁来</tspan><tspan x="2163" dy="14.7">说？（过马路要走斑马线）（进行交通安全教</tspan><tspan x="2163" dy="14.7">育：教育学生要认清交通标志，遵守交通规则</tspan><tspan x="2163" dy="14.7">，安全行驶。）</tspan></text></g>
<g id="n4-44"><rect class="r4" x="1840" y="3660" width="34" height="27"/><text class="t4" x="1846" y="3677">六、</text></g>
<g id="n4-45"><rect class="r4" x="1896" y="3499" width="239" height="40"/><text class="t4" x="1902" y="3515">1、导入。（多媒体出示学校的体育室，导入<tspan x="1902" dy="14.7">"小小设计师"。）</tspan></text></g>
<g id="n4-46"><rect class="r4" x="2157" y="3410" width="239" height="39"/><text class="t4" x="2163" y="3426">师：小朋友真聪明！那你们知道这是什么地方<tspan x="2163" dy="14.7">吗？（这就是</tspan></text></g>
<g id="n4-47"><rect class="r4" x="2157" y="3475" width="170" height="24"/><text class="t4" x="2163" y="3491">我们学校的未来的体育运动室）</text></g>
<g id="n4-48"><rect class="r4" x="2157" y="3524" width="239" height="40"/><text class="t4" x="2163" y="3540">漂亮吗？这位设计师利用了哪些图形来设计呢<tspan x="2163" dy="14.7">？这个是什么图形？这个呢？。。。 。。。</tspan></text></g>
<g id="n4-49"><rect class="r4" x="2157" y="3589" width="239" height="40"/><text class="t4" x="2163" y="3605">原来用我们今天所学的图形能设计出这么漂亮<tspan x="2163" dy="14.7">的图画。</tspan></text></g>
<g id="n4-50"><rect class="r4" x="1896" y="3660" width="85" height="27"/><text class="t4" x="1902" y="3677">2、设计图画。</text></g>
<g id="n4-51"><rect class="r4" x="2003" y="3654" width="239" height="40"/><text class="t4" x="2009" y="3670">听音乐，运用今天学过的图形设计一幅美丽的<tspan x="2009" dy="14.7">图画。</tspan></text></g>
<g id="n4-52"><rect class="r4" x="1896" y="3719" width="85" height="27"/><text class="t4" x="1902" y="3736">3、汇报成果。</text></g>
<g id="n4-53"><rect class="r4" x="2003" y="3719" width="216" height="27"/><text class="t4" x="2009" y="3736">教师把设计好的图形展示给同学们欣赏。</text></g>
<g id="n4-54"><rect class="r4" x="1896" y="3817" width="85" height="27"/><text class="t4" x="1902" y="3834">4、教师小结。</text></g>
<g id="n4-55"><rect class="r4" x="2003" y="3770" width="239" height="40"/><text class="t4" x="2009" y="3786">其他学生设计得也不错，课后我们就开个"小<tspan x="2009" dy="14.7">展览"大家一起来评一评，好不好！</tspan></text></g>
<g id="n4-56"><rect class="r4" x="2003" y="3836" width="239" height="67"/><text class="t4" x="2009" y="3851">今天，我们每个同学都做了小小设计师，只要<tspan x="2009" dy="14.7">大家努力学习，长大后，一定会成为著名的设</tspan><tspan x="2009" dy="14.7">计师。老师相信经你们之手，一定会把我们的</tspan><tspan x="2009" dy="14.7">祖国设计的更加美丽、壮观！</tspan></text></g>

<g id="n5-1"><rect class="r5" x="701" y="2799" width="101" height="24"/><text class="t5" x="707" y="2815">《认识图形》教案</text></g>
<g id="n5-2"><rect class="r5" x="724" y="4525" width="78" height="24"/><text class="t5" x="730" y="4541">一、教材分析</text></g>
<g id="n5-3"><rect class="r5" x="628" y="2865" width="73" height="24"/><text class="t5" x="634" y="2881">1、教学内容</text></g>
<g id="n5-4"><rect class="r5" x="367" y="2850" width="238" height="52"/><text class="t5" x="373" y="2865">义务教育课程标准实验教科书数学（北师大版<tspan x="373" dy="14.7">）一年级下册第四单元《有趣的图形》第一课</tspan><tspan x="373" dy="14.7">时。</tspan></text></g>
<g id="n5-5"><rect class="r5" x="628" y="2967" width="73" height="24"/><text class="t5" x="634" y="2983">2、教材简析</text></g>
<g id="n5-6"><rect class="r5" x="367" y="2929" width="238" height="98"/><text class="t5" x="373" y="2945">《认识图形》这部分内容，是本册教材《有趣<tspan x="373" dy="14.7">的图形》这一单元的起始课，是在第一册认识</tspan><tspan x="373" dy="14.7">了立体图形的基础上，让学生初步认识平面图</tspan><tspan x="373" dy="14.7">形，为以后学习更深层的几何知识打下基础。</tspan><tspan x="373" dy="14.7">教材体现了从立体到平面的设计思路，注重让</tspan><tspan x="373" dy="14.7">学生通过操作活动体会面与体之间的关系。</tspan></text></g>
<g id="n5-7"><rect class="r5" x="628" y="3141" width="73" height="24"/><text class="t5" x="634" y="3157">3、教学目标</text></g>
<g id="n5-8"><rect class="r5" x="367" y="3054" width="238" height="52"/><text class="t5" x="373" y="3069">知识目标：通过观察、操作等活动，初步认识<tspan x="373" dy="14.7">并辨认长方形、正方形、三角形和圆，体会"</tspan><tspan x="373" dy="14.7">面"在"体"上。</tspan></text></g>
<g id="n5-9"><rect class="r5" x="367" y="3133" width="238" height="39"/><text class="t5" x="373" y="3149">能力目标：在动手操作的过程中形成空间观念<tspan x="373" dy="14.7">和创新意识。</tspan></text></g>
<g id="n5-10"><rect class="r5" x="367" y="3198" width="238" height="54"/><text class="t5" x="373" y="3214">情感目标：通过图形在生活中的广泛运用，感<tspan x="373" dy="14.7">受到数学知识与生活息息相关，激发学生对数</tspan><tspan x="373" dy="14.7">学学习的兴趣。</tspan></text></g>
<g id="n5-11"><rect class="r5" x="628" y="3278" width="73" height="24"/><text class="t5" x="634" y="3294">4、教学重点</text></g>
<g id="n5-12"><rect class="r5" x="493" y="3278" width="112" height="24"/><text class="t5" x="499" y="3294">会辨认这四种图形。</text></g>
<g id="n5-13"><rect class="r5" x="628" y="3328" width="73" height="25"/><text class="t5" x="634" y="3344">5、教学难点</text></g>
<g id="n5-14"><rect class="r5" x="496" y="3328" width="109" height="25"/><text class="t5" x="502" y="3344">体会"面"在"体"上。</text></g>
<g id="n5-15"><rect class="r5" x="628" y="3781" width="73" height="25"/><text class="t5" x="634" y="3797">6、教学准备</text></g>
<g id="n5-16"><rect class="r5" x="367" y="3379" width="238" height="38"/><text class="t5" x="373" y="3394">多媒体课件、立体图形实物若干、平面图形若<tspan x="373" dy="14.7">干、白纸、彩笔等。</tspan></text></g>
<g id="n5-17"><rect class="r5" x="527" y="3444" width="78" height="25"/><text class="t5" x="533" y="3460">二、教法学法</text></g>
<g id="n5-18"><rect class="r5" x="367" y="3495" width="238" height="97"/><text class="t5" x="373" y="3510">本次教学活动以"问题情境—建立模型—解释<tspan x="373" dy="14.7">与应用"的模式呈现教学内容，注重让学生体</tspan><tspan x="373" dy="14.7">验"从立体到平面"的探究、建模过程，以学生</tspan><tspan x="373" dy="14.7">的发展为本，强调对学生空间观念的培养，融</tspan><tspan x="373" dy="14.7">观察、操作、交流、合作等学习方法为一体，</tspan><tspan x="373" dy="14.7">注重让学生在操作体验中学习。</tspan></text></g>
<g id="n5-19"><rect class="r5" x="527" y="3618" width="78" height="25"/><text class="t5" x="533" y="3634">三、教学流程</text></g>
<g id="n5-20"><rect class="r5" x="458" y="3890" width="147" height="24"/><text class="t5" x="464" y="3906">（一）创设情境，导入新课</text></g>
<g id="n5-21"><rect class="r5" x="288" y="3668" width="147" height="25"/><text class="t5" x="294" y="3684">（课件出示：漂亮的城堡）</text></g>
<g id="n5-22"><rect class="r5" x="197" y="3719" width="238" height="53"/><text class="t5" x="203" y="3735">我们的好朋友淘气带我们来到了一座漂亮的城<tspan x="203" dy="14.7">堡，在这座城堡里，住着各种形状的图形，请</tspan><tspan x="203" dy="14.7">小朋友们认一认，说一说这些图形的名字。</tspan></text></g>
<g id="n5-23"><rect class="r5" x="197" y="3799" width="238" height="53"/><text class="t5" x="203" y="3815">长方体、正方体、圆柱和球都是立体图形。在<tspan x="203" dy="14.7">图形的城堡里，除了立体图形家族，还住着一</tspan><tspan x="203" dy="14.7">个庞大的家族，那就是平面图形。</tspan></text></g>
<g id="n5-24"><rect class="r5" x="300" y="3878" width="135" height="25"/><text class="t5" x="306" y="3894">（课件出示：平面图形）</text></g>
<g id="n5-25"><rect class="r5" x="266" y="3930" width="169" height="24"/><text class="t5" x="272" y="3946">学生尝试说说认识的图形名字。</text></g>
<g id="n5-26"><rect class="r5" x="197" y="3979" width="238" height="40"/><text class="t5" x="203" y="3995">揭示课题：今天，我们就要一起来认识这些平<tspan x="203" dy="14.7">面图形。</tspan></text></g>
<g id="n5-27"><rect class="r5" x="323" y="4044" width="112" height="25"/><text class="t5" x="329" y="4060">（板书：认识图形）</text></g>
<g id="n5-28"><rect class="r5" x="197" y="4095" width="238" height="53"/><text class="t5" x="203" y="4111">（结合学生已有的知识背景，从常见的物体出<tspan x="203" dy="14.7">发，再让学生认识和了解平面图形，丰富学生</tspan><tspan x="203" dy="14.7">对平面图形的感性认识。）</tspan></text></g>
<g id="n5-29"><rect class="r5" x="458" y="4175" width="147" height="25"/><text class="t5" x="464" y="4191">（二）操作交流，探究新知</text></g>
<g id="n5-30"><rect class="r5" x="585" y="4374" width="116" height="25"/><text class="t5" x="591" y="4390">1、感知"面"在"体"上</text></g>
<g id="n5-31"><rect class="r5" x="465" y="4240" width="97" height="25"/><text class="t5" x="471" y="4256">（1）观察操作。</text></g>
<g id="n5-32"><rect class="r5" x="205" y="4226" width="238" height="54"/><text class="t5" x="211" y="4242">提出要求：这些平面图形都藏在大家桌面上的<tspan x="211" dy="14.7">物体中，请大家找一找、摸一摸、说一说，赶</tspan><tspan x="211" dy="14.7">快行动吧！</tspan></text></g>
<g id="n5-33"><rect class="r5" x="478" y="4357" width="84" height="24"/><text class="t5" x="484" y="4373">（2）汇报交流</text></g>
<g id="n5-34"><rect class="r5" x="217" y="4306" width="238" height="53"/><text class="t5" x="223" y="4322">说一说：你在什么物体上找到了什么图形？再<tspan x="223" dy="14.7">摸一摸自己找的图形的面，有什么感觉？（引</tspan><tspan x="223" dy="14.7">导学生说出"面"的主要特点是平。）</tspan></text></g>
<g id="n5-35"><rect class="r5" x="217" y="4386" width="238" height="38"/><text class="t5" x="223" y="4401">（通过"摸"的活动，让学生亲身感受，体会到<tspan x="223" dy="14.7">物体的每个面都是平的。）</tspan></text></g>
<g id="n5-36"><rect class="r5" x="478" y="4508" width="84" height="26"/><text class="t5" x="484" y="4525">（3）引导发现</text></g>
<g id="n5-37"><rect class="r5" x="253" y="4451" width="202" height="24"/><text class="t5" x="259" y="4467">（课件演示"面"在"体"上的分离过程）</text></g>
<g id="n5-38"><rect class="r5" x="217" y="4501" width="238" height="39"/><text class="t5" x="223" y="4517">师：通过刚才的观察发现，这些平面图形的家<tspan x="223" dy="14.7">都住在立体图形上。</tspan></text></g>
<g id="n5-39"><rect class="r5" x="275" y="4566" width="180" height="25"/><text class="t5" x="281" y="4582">（通过"看"，初步体会面在体上）</text></g>
<g id="n5-40"><rect class="r5" x="571" y="4736" width="130" height="25"/><text class="t5" x="577" y="4752">2、动手操作，合作学习</text></g>
<g id="n5-41"><rect class="r5" x="310" y="4616" width="238" height="54"/><text class="t5" x="316" y="4632">（1）教师启发：谁能想出一个好办法，把这<tspan x="316" dy="14.7">些平面图形从立体图形上请出来，留在桌上的</tspan><tspan x="316" dy="14.7">白纸上呢?</tspan></text></g>
<g id="n5-42"><rect class="r5" x="50" y="4624" width="238" height="38"/><text class="t5" x="56" y="4639">（这一要求既有挑战性，也有探索性，同时具<tspan x="56" dy="14.7">有操作性。）</tspan></text></g>
<g id="n5-43"><rect class="r5" x="440" y="4696" width="108" height="25"/><text class="t5" x="446" y="4712">（2）小组合作完成</text></g>
<g id="n5-44"><rect class="r5" x="395" y="4841" width="153" height="25"/><text class="t5" x="401" y="4857">（3）汇报、交流不同的方法</text></g>
<g id="n5-45"><rect class="r5" x="133" y="4747" width="239" height="40"/><text class="t5" x="139" y="4763">引导学生想出多种办法（可用描、画、印等方<tspan x="139" dy="14.7">法），给予赞扬。</tspan></text></g>
<g id="n5-46"><rect class="r5" x="133" y="4812" width="239" height="53"/><text class="t5" x="139" y="4828">（充分给学生"说"的机会，让学生陈述操作过<tspan x="139" dy="14.7">程，表达亲身感受，培养语言的条理性，促进</tspan><tspan x="139" dy="14.7">思维的逻辑性。）</tspan></text></g>
<g id="n5-47"><rect class="r5" x="133" y="4892" width="239" height="97"/><text class="t5" x="139" y="4907">（通过这种"做中学"，让学生积极参与操作过<tspan x="139" dy="14.7">程，亲身体验面的形成过程，帮助学生建立平</tspan><tspan x="139" dy="14.7">面图形的空间观念，突破本课难点。实现数学</tspan><tspan x="139" dy="14.7">学习的亲历性，突出学生学习的自主性和创造</tspan><tspan x="139" dy="14.7">性，实现教与学方式的变革，体现以学生发展</tspan><tspan x="139" dy="14.7">为本的课程价值观。）</tspan></text></g>
<g id="n5-48"><rect class="r5" x="650" y="5045" width="51" height="24"/><text class="t5" x="656" y="5061">3、小结</text></g>
<g id="n5-49"><rect class="r5" x="389" y="5015" width="239" height="84"/><text class="t5" x="395" y="5031">我们从长方体上找到了长方形，从正方体上找<tspan x="395" dy="14.7">到了正方形，从三棱柱上找到了三角形，圆柱</tspan><tspan x="395" dy="14.7">上找到了圆形。我们还发现，这些图形的面都</tspan><tspan x="395" dy="14.7">是平的`，并且只有一个面，所以，就把这些</tspan><tspan x="395" dy="14.7">图形叫做平面图形。</tspan></text></g>
<g id="n5-50"><rect class="r5" x="594" y="5230" width="107" height="25"/><text class="t5" x="600" y="5246">4、游戏：我说你想</text></g>
<g id="n5-51"><rect class="r5" x="332" y="5124" width="239" height="54"/><text class="t5" x="338" y="5140">试试你掌握的本领。老师说一个图形的名字，<tspan x="338" dy="14.7">请你闭上眼睛，想一想它的样子，一边想一边</tspan><tspan x="338" dy="14.7">用手指画一画。</tspan></text></g>
<g id="n5-52"><rect class="r5" x="424" y="5205" width="147" height="24"/><text class="t5" x="430" y="5221">同桌之间可进行互动练习。</text></g>
<g id="n5-53"><rect class="r5" x="332" y="5255" width="239" height="39"/><text class="t5" x="338" y="5271">（通过让学生闭眼想象所学的图形，培养空间<tspan x="338" dy="14.7">想象力，有效地发展学生的空间观念。）</tspan></text></g>
<g id="n5-54"><rect class="r5" x="424" y="5320" width="147" height="25"/><text class="t5" x="430" y="5336">（三）巩固加深，迁移拓展</text></g>
<g id="n5-55"><rect class="r5" x="536" y="5385" width="165" height="25"/><text class="t5" x="542" y="5401">1、连一连：将图形与名字连线</text></g>
<g id="n5-56"><rect class="r5" x="275" y="5371" width="239" height="53"/><text class="t5" x="281" y="5387">（变式图形的呈现，能帮助学生更好地将获得<tspan x="281" dy="14.7">的性质特征概括到同类对象中去，使学生在概</tspan><tspan x="281" dy="14.7">括中获得对图形进一步的理解。）</tspan></text></g>
<g id="n5-57"><rect class="r5" x="463" y="5592" width="238" height="38"/><text class="t5" x="469" y="5607">2、找一找：生活中，你在哪里还见过这样的<tspan x="469" dy="14.7">图形?</tspan></text></g>
<g id="n5-58"><rect class="r5" x="203" y="5451" width="238" height="53"/><text class="t5" x="209" y="5467">（教师先引导学生看看教室里哪些物体上有这<tspan x="209" dy="14.7">样的图形，可离开座位去找、去指、去摸，再</tspan><tspan x="209" dy="14.7">把发现告诉大家。）</tspan></text></g>
<g id="n5-59"><rect class="r5" x="203" y="5530" width="238" height="39"/><text class="t5" x="209" y="5546">师：其实，在我们回家的路上也能看到这些图<tspan x="209" dy="14.7">形，现在，我们一起去马路上看看吧！</tspan></text></g>
<g id="n5-60"><rect class="r5" x="236" y="5595" width="205" height="24"/><text class="t5" x="242" y="5611">说一说：这些交通标志牌是什么形状?</text></g>
<g id="n5-61"><rect class="r5" x="203" y="5645" width="238" height="40"/><text class="t5" x="209" y="5661">（课件演示：介绍交通标志牌的作用，渗透交<tspan x="209" dy="14.7">通安全教育）</tspan></text></g>
<g id="n5-62"><rect class="r5" x="203" y="5711" width="238" height="68"/><text class="t5" x="209" y="5727">（将数学课上认识的图形与生活中的物体融合<tspan x="209" dy="14.7">，加深对这些图形的认识。借助生活中的真实</tspan><tspan x="209" dy="14.7">情境，引导学生对生活的观察，体会生活中处</tspan><tspan x="209" dy="14.7">处有数学，激发学生对数学学习的兴趣。）</tspan></text></g>
<g id="n5-63"><rect class="r5" x="479" y="5805" width="222" height="25"/><text class="t5" x="485" y="5821">3、找朋友 （进一步体验"面"由"体"得。）</text></g>
<g id="n5-64"><rect class="r5" x="463" y="5855" width="238" height="40"/><text class="t5" x="469" y="5871">4、数一数 数一数每个图形分别是由哪些平面<tspan x="469" dy="14.7">图形组成的?</tspan></text></g>
<g id="n5-65"><rect class="r5" x="639" y="6015" width="62" height="25"/><text class="t5" x="645" y="6031">5、拼一拼</text></g>
<g id="n5-66"><rect class="r5" x="378" y="5921" width="238" height="68"/><text class="t5" x="384" y="5937">今天这节课小朋友学得很好，胡老师要奖励给<tspan x="384" dy="14.7">每个小组一份礼物。请打开礼品袋（袋内装有</tspan><tspan x="384" dy="14.7">平面图形若干），用里面的图形拼出你最喜欢</tspan><tspan x="384" dy="14.7">的东西。</tspan></text></g>
<g id="n5-67"><rect class="r5" x="531" y="6015" width="85" height="25"/><text class="t5" x="537" y="6031">（1）小组合作</text></g>
<g id="n5-68"><rect class="r5" x="378" y="6080" width="238" height="39"/><text class="t5" x="384" y="6096">（2）交流展示。说一说，你拼的是什么？用<tspan x="384" dy="14.7">了哪些图形?</tspan></text></g>
<g id="n5-69"><rect class="r5" x="118" y="6065" width="238" height="68"/><text class="t5" x="124" y="6081">（拓展学生的思维，发展学生的动手操作能力<tspan x="124" dy="14.7">和创新能力，满足学生的创造欲，培养学生的</tspan><tspan x="124" dy="14.7">数学应用意识。通过作品的展示，让学生学会</tspan><tspan x="124" dy="14.7">自我欣赏和互相欣赏，培养学生的自信心。）</tspan></text></g>
<g id="n5-70"><rect class="r5" x="463" y="6178" width="238" height="39"/><text class="t5" x="469" y="6194">6、全课总结：通过这节课的学习，你有什么<tspan x="469" dy="14.7">收获？你认为这节课最有趣的是什么？</tspan></text></g>
<g id="n5-71"><rect class="r5" x="374" y="6185" width="67" height="26"/><text class="t5" x="380" y="6202">板书设计：</text></g>
<g id="n5-72"><rect class="r5" x="296" y="6161" width="55" height="24"/><text class="t5" x="302" y="6177">认识图形</text></g>
<g id="n5-73"><rect class="r5" x="217" y="6211" width="134" height="24"/><text class="t5" x="223" y="6227">长方形 正方形 圆 三角形</text></g>

<g id="n6-1"><rect class="r6" x="1751" y="3930" width="217" height="26"/><text class="t6" x="1757" y="3947">★ 认识平面图形一年级数学上册教案设计</text></g>
<g id="n6-2"><rect class="r6" x="1751" y="3980" width="160" height="26"/><text class="t6" x="1757" y="3997">★ 一年级上学期数学教案范文</text></g>
<g id="n6-3"><rect class="r6" x="1751" y="4031" width="178" height="26"/><text class="t6" x="1757" y="4048">★ 一年级数学公开课教学设计5篇</text></g>
<g id="n6-4"><rect class="r6" x="1751" y="4081" width="236" height="26"/><text class="t6" x="1757" y="4098">★ 北师大版一年级数学教案及说课稿范文5篇</text></g>
<g id="n6-5"><rect class="r6" x="1751" y="4132" width="157" height="26"/><text class="t6" x="1757" y="4149">★ 经典一年级数学10教案5篇</text></g>
<g id="n6-6"><rect class="r6" x="1751" y="4183" width="171" height="26"/><text class="t6" x="1757" y="4200">★ 一年级数学课堂教学教案模板</text></g>
<g id="n6-7"><rect class="r6" x="1751" y="4233" width="171" height="26"/><text class="t6" x="1757" y="4250">★ 一年级上册数学准备教案范文</text></g>
<g id="n6-8"><rect class="r6" x="1751" y="4284" width="196" height="26"/><text class="t6" x="1757" y="4301">★ 一年级数学8和9的认识的教案范文</text></g>
<g id="n6-9"><rect class="r6" x="1751" y="4334" width="205" height="26"/><text class="t6" x="1757" y="4351">★ 一年级上册新人教数学优秀教案范文</text></g>
<g id="n6-10"><rect class="r6" x="1751" y="4385" width="160" height="26"/><text class="t6" x="1757" y="4402">★ 一年级数学教案模板最新版</text></g>
</g>
</svg>
